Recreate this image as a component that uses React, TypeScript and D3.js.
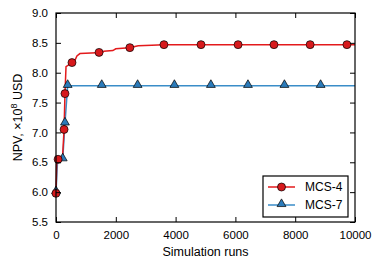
import React, { useEffect, useRef } from "react";
import * as d3 from "d3";

// MCS-4 convergence curve (runs, NPV x 1e8 USD)
const mcs4Line: [number, number][] = [
  [0, 5.98], [25, 6.5], [70, 6.55], [220, 6.6], [270, 7.05], [300, 7.65],
  [335, 8.1], [450, 8.14], [600, 8.17], [700, 8.28], [800, 8.32], [1550, 8.34],
  [1600, 8.36], [1900, 8.37], [2000, 8.4], [2450, 8.42], [2750, 8.45],
  [3200, 8.46], [3600, 8.47], [10000, 8.47],
];
const mcs4Marks: [number, number][] = [
  [0, 5.98], [70, 6.55], [270, 7.05], [300, 7.65], [535, 8.17], [1440, 8.34],
  [2470, 8.42], [3610, 8.47], [4850, 8.47], [6090, 8.47], [7290, 8.47],
  [8500, 8.47], [9730, 8.47],
];

// MCS-7 convergence curve
const mcs7Line: [number, number][] = [
  [0, 6.0], [50, 6.5], [225, 6.55], [300, 7.15], [390, 7.78], [10000, 7.78],
];
const mcs7Marks: [number, number][] = [
  [0, 6.0], [225, 6.55], [300, 7.15], [390, 7.78], [1530, 7.78], [2730, 7.78],
  [3960, 7.78], [5180, 7.78], [6420, 7.78], [7640, 7.78], [8850, 7.78],
];

const xTicks = [0, 2000, 4000, 6000, 8000, 10000];
const yTicks = [5.5, 6.0, 6.5, 7.0, 7.5, 8.0, 8.5, 9.0];
const seriesNames = ["MCS-4", "MCS-7"];

function Chart() {
  const svgRef = useRef<SVGSVGElement>(null);

  useEffect(() => {
    const svg = d3.select(svgRef.current);
    svg.selectAll("*").remove();
    const margin = { top: 13, right: 19, bottom: 40, left: 56 };
    const width = 374;
    const height = 262;
    const font = "Liberation Sans, Arial, sans-serif";
    const red = "#e31a1c";
    const redFill = "#d7191c";
    const blue = "#3a8dc8";
    const blueFill = "#2b7bba";

    const x = d3.scaleLinear().domain([0, 10000]).range([margin.left, width - margin.right]);
    const y = d3.scaleLinear().domain([5.5, 9.0]).range([height - margin.bottom, margin.top]);

    const line = d3
      .line<[number, number]>()
      .x((d) => x(d[0]))
      .y((d) => y(d[1]));

    const plot = svg.append("g");
    plot.append("path").datum(mcs7Line).attr("fill", "none").attr("stroke", blue).attr("stroke-width", 1.5).attr("d", line);
    plot.append("path").datum(mcs4Line).attr("fill", "none").attr("stroke", red).attr("stroke-width", 1.5).attr("d", line);

    const tri = d3.symbol().type(d3.symbolTriangle).size(34);
    plot
      .selectAll(".m7")
      .data(mcs7Marks)
      .join("path")
      .attr("transform", (d) => `translate(${x(d[0])},${y(d[1]) - 1})`)
      .attr("d", tri)
      .attr("fill", blueFill)
      .attr("stroke", "#000")
      .attr("stroke-width", 0.7);

    plot
      .selectAll(".m4")
      .data(mcs4Marks)
      .join("circle")
      .attr("cx", (d) => x(d[0]))
      .attr("cy", (d) => y(d[1]))
      .attr("r", 4)
      .attr("fill", redFill)
      .attr("stroke", "#000")
      .attr("stroke-width", 0.7);

    // frame
    const [x0, x1] = x.range();
    const [y0, y1] = y.range();
    svg
      .append("rect")
      .attr("x", x0)
      .attr("y", y1)
      .attr("width", x1 - x0)
      .attr("height", y0 - y1)
      .attr("fill", "none")
      .attr("stroke", "#000")
      .attr("stroke-width", 1.2);

    // x axis (ticks inward)
    const xAxis = d3.axisBottom(x).tickValues(xTicks).tickSize(-5).tickPadding(9).tickFormat(d3.format("d"));
    const gx = svg.append("g").attr("transform", `translate(0,${y0})`).call(xAxis);
    const xTop = d3.axisTop(x).tickValues(xTicks).tickSize(-5).tickFormat(() => "");
    const gxt = svg.append("g").attr("transform", `translate(0,${y1})`).call(xTop);

    const yAxis = d3.axisLeft(y).tickValues(yTicks).tickSize(-5).tickPadding(8).tickFormat(d3.format(".1f"));
    const gy = svg.append("g").attr("transform", `translate(${x0},0)`).call(yAxis);
    const yRight = d3.axisRight(y).tickValues(yTicks).tickSize(-5).tickFormat(() => "");
    const gyr = svg.append("g").attr("transform", `translate(${x1},0)`).call(yRight);

    [gx, gxt, gy, gyr].forEach((g) => {
      g.select(".domain").remove();
      g.selectAll("line").attr("stroke", "#000");
      g.selectAll("text").attr("font-family", font).attr("font-size", 11.5).attr("fill", "#000");
    });

    svg
      .append("text")
      .attr("x", (x0 + x1) / 2)
      .attr("y", 256)
      .attr("text-anchor", "middle")
      .attr("font-family", font)
      .attr("font-size", 12.5)
      .text("Simulation runs");

    const yl = svg
      .append("text")
      .attr("transform", `translate(22,${(y0 + y1) / 2}) rotate(-90)`)
      .attr("text-anchor", "middle")
      .attr("font-family", font)
      .attr("font-size", 12.5);
    yl.append("tspan").text("NPV, ×10");
    yl.append("tspan").attr("dy", -5).attr("font-size", 9).text("8");
    yl.append("tspan").attr("dy", 5).text(" USD");

    // legend
    const lg = svg.append("g").attr("transform", "translate(263,176)");
    lg.append("rect").attr("width", 85).attr("height", 41).attr("fill", "#fff").attr("stroke", "#000").attr("stroke-width", 1.2);
    const colors = [red, blue];
    seriesNames.forEach((name, i) => {
      const cy = 11 + i * 18;
      lg.append("line").attr("x1", 5).attr("x2", 32).attr("y1", cy).attr("y2", cy).attr("stroke", colors[i]).attr("stroke-width", 1.5);
      if (i === 0) {
        lg.append("circle").attr("cx", 18.5).attr("cy", cy).attr("r", 4).attr("fill", redFill).attr("stroke", "#000").attr("stroke-width", 0.7);
      } else {
        lg.append("path").attr("transform", `translate(18.5,${cy - 1})`).attr("d", tri).attr("fill", blueFill).attr("stroke", "#000").attr("stroke-width", 0.7);
      }
      lg.append("text").attr("x", 42).attr("y", cy + 4).attr("font-family", font).attr("font-size", 12).text(name);
    });
  }, []);

  return (
    <svg
      ref={svgRef}
      width={374}
      height={262}
      style={{ position: "absolute", left: 0, top: 0, background: "#fff" }}
    ></svg>
  );
}

export default function App() {
  return <Chart />;
}
